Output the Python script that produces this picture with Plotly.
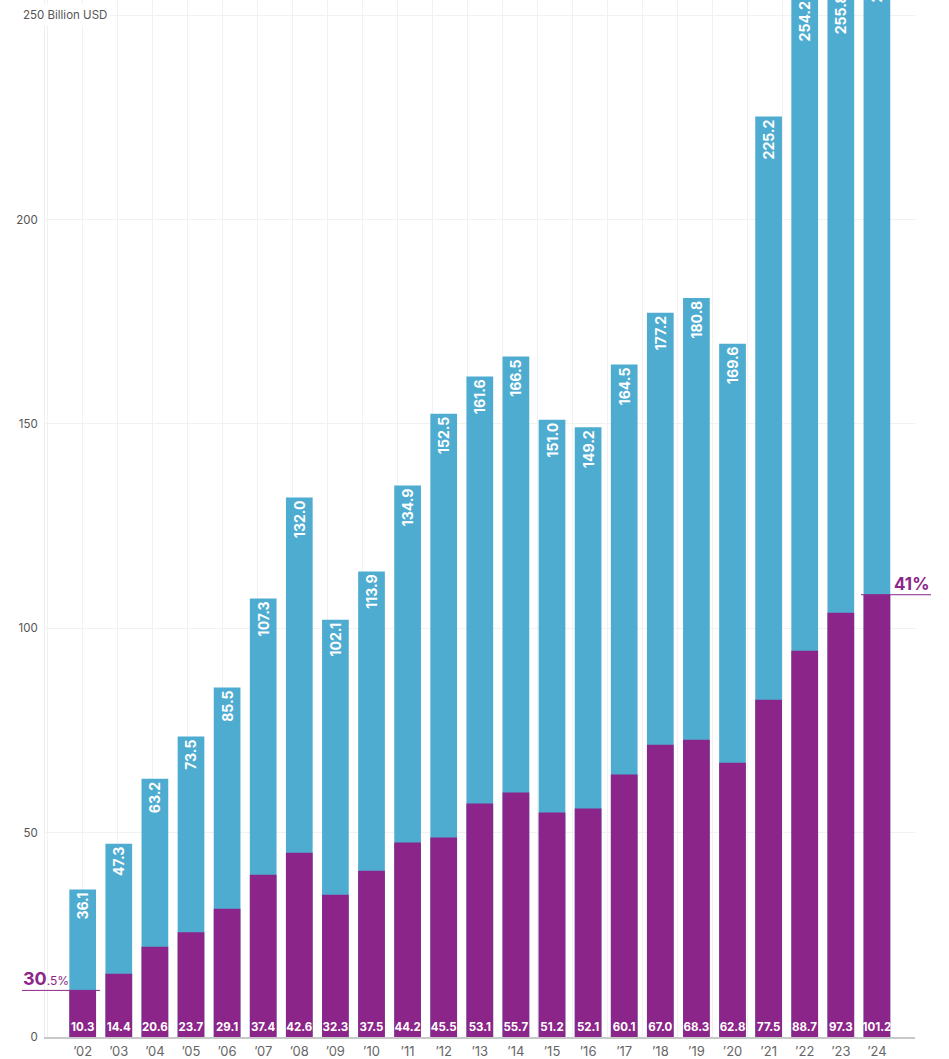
import plotly.graph_objects as go

# ---------------- data ----------------
years = ["’02", "’03", "’04", "’05", "’06", "’07", "’08", "’09", "’10", "’11", "’12",
         "’13", "’14", "’15", "’16", "’17", "’18", "’19", "’20", "’21", "’22", "’23", "’24"]
totals = [36.1, 47.3, 63.2, 73.5, 85.5, 107.3, 132.0, 102.1, 113.9, 134.9, 152.5,
          161.6, 166.5, 151.0, 149.2, 164.5, 177.2, 180.8, 169.6, 225.2, 254.2, 255.8, 263.6]
# purple bar heights (share of total)
share_heights = [11.4, 15.5, 22.1, 25.6, 31.4, 39.7, 45.1, 34.8, 40.7, 47.6, 48.8,
                 57.1, 59.8, 54.9, 55.9, 64.2, 71.5, 72.7, 67.1, 82.5, 94.5, 103.8, 108.2]
share_values = [10.3, 14.4, 20.6, 23.7, 29.1, 37.4, 42.6, 32.3, 37.5, 44.2, 45.5,
                53.1, 55.7, 51.2, 52.1, 60.1, 67.0, 68.3, 62.8, 77.5, 88.7, 97.3, 101.2]
first_share = ("30", ".5%")
last_share = "41%"
y_ticks = [0, 50, 100, 150, 200, 250]
y_unit = "Billion USD"

BLUE = "#4FACD1"
PURPLE = "#8C2589"
FONT = "Inter"

W, H = 949, 1059
ML, MR, MT, MB = 45, 34, 0, 12
PW = W - ML - MR

def px_to_paper(px):
    return (px - ML) / PW

fig = go.Figure()

fig.add_trace(go.Bar(
    x=years, y=totals, width=0.74,
    marker=dict(color=BLUE, line=dict(width=0)),
    text=[f"{v:.1f}" for v in totals],
    textposition="inside", insidetextanchor="end", textangle=-90,
    constraintext="none",
    textfont=dict(family=FONT, size=14, color="white", weight="bold"),
    hoverinfo="skip", showlegend=False,
))
fig.add_trace(go.Bar(
    x=years, y=share_heights, width=0.74,
    marker=dict(color=PURPLE, line=dict(width=0)),
    text=[f"{v:.1f}" for v in share_values],
    textposition="inside", insidetextanchor="start", textangle=0,
    constraintext="none",
    textfont=dict(family=FONT, size=11.5, color="white", weight="bold"),
    hoverinfo="skip", showlegend=False,
))
# empty trace to carry the decorative vertical grid axis
fig.add_trace(go.Scatter(x=[], y=[], xaxis="x2", yaxis="y", showlegend=False, hoverinfo="skip"))

fig.update_layout(
    width=W, height=H,
    margin=dict(l=ML, r=MR, t=MT, b=MB),
    paper_bgcolor="white", plot_bgcolor="white",
    barmode="overlay", bargap=0.26,
    font=dict(family=FONT, color="#555"),
    xaxis=dict(
        type="category", range=[-1.044, 23.055],
        showgrid=False, zeroline=False,
        showline=True, linecolor="#c8c8c8", linewidth=1.5,
        ticks="", tickfont=dict(family=FONT, size=13, color="#666"),
        ticklabelstandoff=2,
    ),
    xaxis2=dict(
        overlaying="x", anchor="y", range=[ML, W - MR],
        tick0=82.7, dtick=35, showgrid=True, gridcolor="#f1f1f1", gridwidth=1,
        showticklabels=False, ticks="", zeroline=False, showline=False,
    ),
    yaxis=dict(
        range=[0, 253.7],
        tickvals=y_ticks,
        ticktext=[str(v) if v != 250 else "" for v in y_ticks],
        showgrid=True, gridcolor="#f1f1f1", gridwidth=1,
        zeroline=False, showline=True, linecolor="#efefef", linewidth=1,
        ticks="", tickfont=dict(family=FONT, size=11.5, color="#555"),
        ticklabelstandoff=4,
    ),
)

# "250 Billion USD" label
fig.add_annotation(
    xref="paper", yref="y", x=px_to_paper(19), y=y_ticks[-1],
    xanchor="left", yanchor="middle", showarrow=False,
    text=f"{y_ticks[-1]} {y_unit}", font=dict(family=FONT, size=11.5, color="#555"),
    bgcolor="white", borderpad=3,
)

# first-year share marker
fig.add_shape(type="line", xref="paper", yref="y",
              x0=px_to_paper(22), x1=px_to_paper(100),
              y0=share_heights[0], y1=share_heights[0],
              line=dict(color=PURPLE, width=1))
fig.add_annotation(
    xref="paper", yref="y", x=px_to_paper(21), y=share_heights[0],
    xanchor="left", yanchor="bottom", yshift=-1, showarrow=False,
    text=f"<b>{first_share[0]}</b><span style='font-size:12px'>{first_share[1]}</span>",
    font=dict(family=FONT, size=18, color=PURPLE),
)

# last-year share marker
fig.add_shape(type="line", xref="paper", yref="y",
              x0=px_to_paper(861), x1=px_to_paper(931),
              y0=share_heights[-1], y1=share_heights[-1],
              line=dict(color=PURPLE, width=1))
fig.add_annotation(
    xref="paper", yref="y", x=px_to_paper(931), y=share_heights[-1],
    xanchor="right", yanchor="bottom", yshift=-1, showarrow=False,
    text=f"<b>{last_share}</b>",
    font=dict(family=FONT, size=17, color=PURPLE),
)

fig.write_html("out.html", config={"displayModeBar": False},
               post_script="document.body.style.margin='0';")
